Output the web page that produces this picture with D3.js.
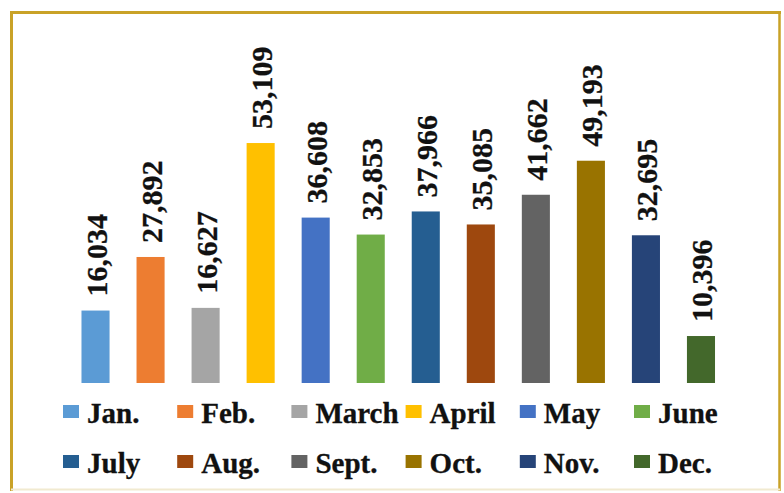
<!DOCTYPE html>
<html lang="en">
<head>
    <meta charset="UTF-8">
    <title>Monthly totals</title>
    <script src="https://d3js.org/d3.v7.min.js"></script>
    <style>
        body {
            margin: 0;
            background: #fff;
        }
        svg text {
            font-family: "Liberation Serif", "Times New Roman", serif;
            font-weight: bold;
            fill: #111;
            stroke: #111;
            stroke-width: 0.3px;
        }
    </style>
</head>
<body>
    <svg id="chart" width="784" height="493"></svg>
    <script>
        // data
        const months = ["Jan.", "Feb.", "March", "April", "May", "June", "July", "Aug.", "Sept.", "Oct.", "Nov.", "Dec."];
        const values = [16034, 27892, 16627, 53109, 36608, 32853, 37966, 35085, 41662, 49193, 32695, 10396];
        const colors = ["#5B9BD5", "#ED7D31", "#A5A5A5", "#FFC000", "#4472C4", "#70AD47",
                        "#255E91", "#9E480E", "#636363", "#997300", "#264478", "#43682B"];

        const svg = d3.select("#chart");
        const fmt = d3.format(",");

        // frame
        const gold = "#C9A227";
        svg.append("line").attr("x1", 10).attr("x2", 781).attr("y1", 12.5).attr("y2", 12.5)
            .attr("stroke", gold).attr("stroke-width", 3);
        svg.append("line").attr("x1", 11.5).attr("x2", 11.5).attr("y1", 11).attr("y2", 491)
            .attr("stroke", gold).attr("stroke-width", 3);
        svg.append("line").attr("x1", 779.5).attr("x2", 779.5).attr("y1", 11).attr("y2", 491)
            .attr("stroke", gold).attr("stroke-width", 2.5);
        svg.append("line").attr("x1", 11).attr("x2", 780).attr("y1", 489.5).attr("y2", 489.5)
            .attr("stroke", "#f1ead0").attr("stroke-width", 2);

        // scales
        const x = d3.scaleBand().domain(months).range([68, 728.5]).paddingInner(0.49).paddingOuter(0.245);
        const y = d3.scaleLinear().domain([0, 60000]).range([383, 111.9]);

        const bars = svg.append("g");
        bars.selectAll("rect")
            .data(months)
            .join("rect")
            .attr("x", d => x(d))
            .attr("width", x.bandwidth())
            .attr("y", (d, i) => y(values[i]))
            .attr("height", (d, i) => y(0) - y(values[i]))
            .attr("fill", (d, i) => colors[i]);

        // value labels, rotated
        bars.selectAll("text")
            .data(months)
            .join("text")
            .attr("transform", (d, i) => `translate(${x(d) + x.bandwidth() / 2 + 1},${y(values[i]) - 14}) rotate(-90)`)
            .attr("dy", "0.34em")
            .attr("font-size", 30)
            .text((d, i) => fmt(values[i]));

        // legend, 2 rows of 6
        const col = d3.scaleLinear().domain([0, 5]).range([63, 634]);
        const row = d3.scaleLinear().domain([0, 1]).range([423, 473]);

        const items = svg.append("g").selectAll("g")
            .data(months)
            .join("g")
            .attr("transform", (d, i) => `translate(${col(i % 6)},${row(Math.floor(i / 6))})`);

        items.append("rect")
            .attr("x", 0)
            .attr("y", -18)
            .attr("width", 16)
            .attr("height", 13)
            .attr("fill", (d, i) => colors[i]);

        items.append("text")
            .attr("x", 24)
            .attr("y", 0)
            .attr("font-size", 29)
            .text(d => d);
    </script>
</body>
</html>
